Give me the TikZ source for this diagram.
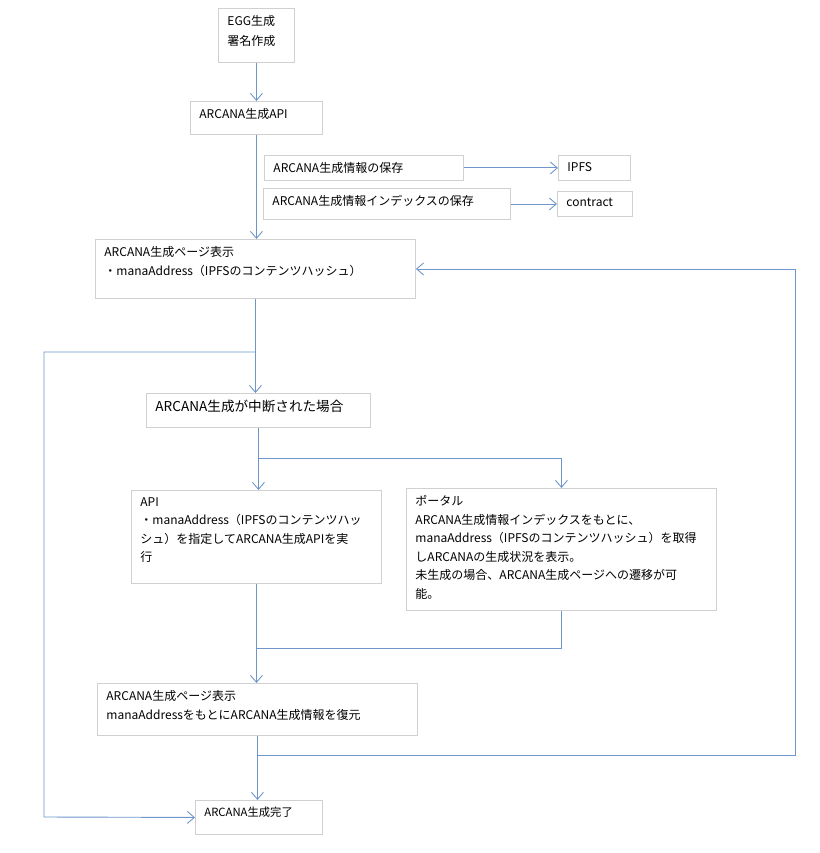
\documentclass[tikz,border=0pt]{standalone}
\usepackage{fontspec}
\setmainfont{Noto Sans CJK JP}
\usetikzlibrary{arrows.meta,calc}
\definecolor{arrowc}{HTML}{6F96CC}
\definecolor{boxc}{HTML}{D0D0D0}
\newcommand{\bxt}[3]{\parbox[c][\dimexpr#2pt-14pt\relax][t]{\dimexpr#1pt-18pt\relax}{\raggedright #3}}
\begin{document}
\begin{tikzpicture}[x=1pt,y=-1pt,
  box/.style={draw=boxc, line width=0.9pt, inner xsep=9pt, inner ysep=7pt, anchor=north west,
    font=\fontsize{12}{18.5}\selectfont},
  arr/.style={draw=arrowc, line width=0.9pt, -{Straight Barb[length=7pt,width=12pt]}},
  ln/.style={draw=arrowc, line width=0.9pt}]
\useasboundingbox (0,0) rectangle (819,853);

\node[box] (egg) at (218,8) {\bxt{76}{54}{EGG生成\\[1.5pt]署名作成}};
\node[box] (api) at (190,101) {\bxt{132}{33}{ARCANA生成API}};
\node[box] (info1) at (264,155) {\bxt{199}{25}{ARCANA生成情報の保存}};
\node[box] (ipfs) at (558,155) {\bxt{72}{25}{IPFS}};
\node[box] (info2) at (263,188) {\bxt{247}{31}{ARCANA生成情報インデックスの保存}};
\node[box] (contract) at (557,191) {\bxt{75}{25}{contract}};
\node[box] (page1) at (95,239) {\bxt{320}{59}{ARCANA生成ページ表示\\・manaAddress（IPFSのコンテンツハッシュ）}};
\node[box, font=\fontsize{13.6}{18.5}\selectfont] (mid) at (146,393) {\bxt{224}{34}{ARCANA生成が中断された場合}};
\node[box] (api2) at (131,490) {\bxt{250}{93}{API\\・manaAddress（IPFSのコンテンツハッ\\シュ）を指定してARCANA生成APIを実\\行}};
\node[box] (portal) at (406,488) {\bxt{310}{122}{ポータル\\ARCANA生成情報インデックスをもとに、\\manaAddress（IPFSのコンテンツハッシュ）を取得\\しARCANAの生成状況を表示。\\未生成の場合、ARCANA生成ページへの遷移が可\\能。}};
\node[box] (page2) at (97,683) {\bxt{320}{52}{ARCANA生成ページ表示\\manaAddressをもとにARCANA生成情報を復元}};
\node[box, font=\fontsize{11.3}{18.5}\selectfont] (done) at (195,800) {\bxt{127}{34}{ARCANA生成完了}};

% connectors
\draw[arr] (egg.south) -- (egg.south |- api.north);
\draw[arr] (api.south) -- (api.south |- page1.north);
\draw[arr] (info1.east) -- (ipfs.west);
\draw[arr] (info2.east) -- (info2.east -| contract.west);

\coordinate (jl) at (page1.south |- 0,352);
\coordinate (lc) at (44,817);
\draw[arr] (page1.south) -- (page1.south |- mid.north);
\draw[arr] (jl) -| (lc) -- (done.west);

\coordinate (jb) at (mid.south |- 0,458);
\draw[arr] (mid.south) -- (mid.south |- api2.north);
\draw[arr] (jb) -| (portal.north);

\coordinate (jp) at (api2.south |- 0,648);
\draw[arr] (api2.south) -- (api2.south |- page2.north);
\draw[ln] (portal.south) |- (jp);

\coordinate (jr) at (page2.south |- 0,755);
\coordinate (rc) at (795,755);
\draw[arr] (page2.south) -- (page2.south |- done.north);
\draw[arr] (jr) -- (rc) |- (page1.east);
\end{tikzpicture}
\end{document}
